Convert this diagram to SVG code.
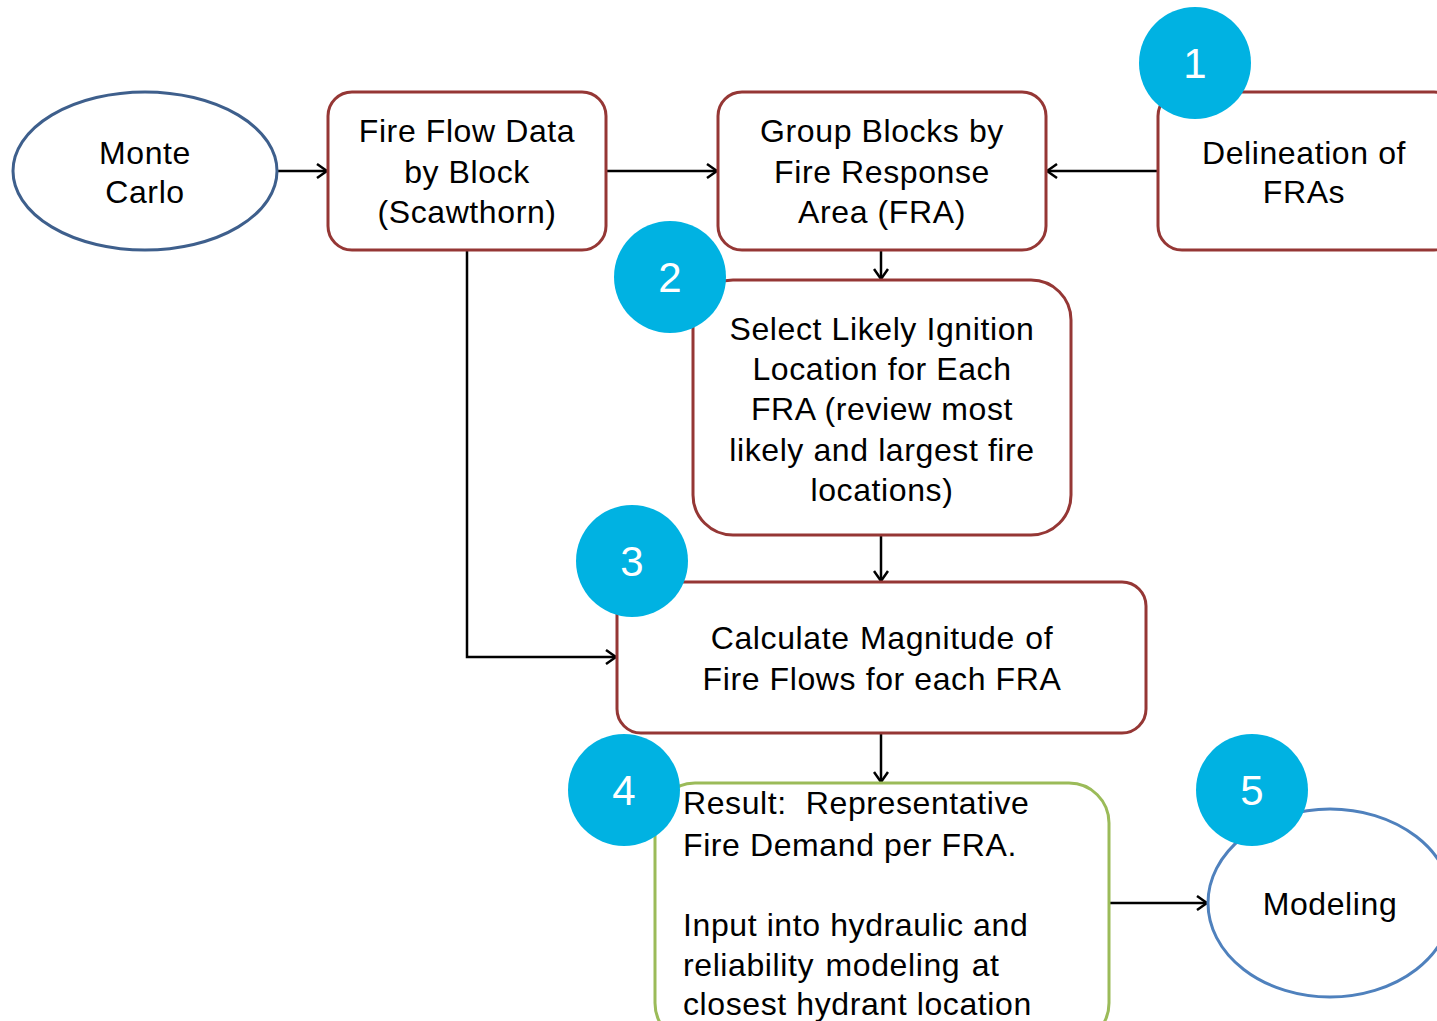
<svg xmlns="http://www.w3.org/2000/svg" width="1437" height="1021" viewBox="0 0 1437 1021">
  <defs>
    <marker id="arrow" viewBox="0 0 12 16" refX="11" refY="8" markerWidth="12" markerHeight="16" markerUnits="userSpaceOnUse" orient="auto">
      <path d="M1,1 L11,8 L1,15" fill="none" stroke="#000" stroke-width="2.5"/>
    </marker>
    <style>
      .box { fill: #fff; stroke: #953735; stroke-width: 3; }
      .green { fill: #fff; stroke: #9BBB59; stroke-width: 3; }
      .oval { fill: #fff; stroke: #3E5F8C; stroke-width: 3; }
      .oval2 { fill: #fff; stroke: #4F81BD; stroke-width: 3; }
      .badge { fill: #00B2E2; }
      .badge-t { font-family: "Liberation Sans", Arial, sans-serif; font-size: 42px; fill: #fff; text-anchor: middle; }
      .t { font-family: "Liberation Sans", Arial, sans-serif; font-size: 32px; letter-spacing: 0.6px; fill: #000; text-anchor: middle; }
      .tl { font-family: "Liberation Sans", Arial, sans-serif; font-size: 32px; letter-spacing: 0.6px; fill: #000; }
      .conn { fill: none; stroke: #000; stroke-width: 2.5; marker-end: url(#arrow); }
    </style>
  </defs>
  <rect width="1437" height="1021" fill="#fff"/>

  <g id="connectors">
    <line class="conn" x1="278" y1="171" x2="327" y2="171"/>
    <line class="conn" x1="606" y1="171" x2="717" y2="171"/>
    <line class="conn" x1="1158" y1="171" x2="1047" y2="171"/>
    <line class="conn" x1="881" y1="250" x2="881" y2="279"/>
    <line class="conn" x1="881" y1="535" x2="881" y2="581"/>
    <polyline class="conn" points="467,250 467,657 616,657"/>
    <line class="conn" x1="881" y1="733" x2="881" y2="782"/>
    <line class="conn" x1="1109" y1="903" x2="1207" y2="903"/>
  </g>

  <g id="monte-carlo">
    <ellipse class="oval" cx="145" cy="171" rx="132" ry="79"/>
    <text class="t" x="145" y="164">Monte</text>
    <text class="t" x="145" y="203">Carlo</text>
  </g>

  <g id="fire-flow-data">
    <rect class="box" x="328" y="92" width="278" height="158" rx="24"/>
    <text class="t" x="467" y="142">Fire Flow Data</text>
    <text class="t" x="467" y="183">by Block</text>
    <text class="t" x="467" y="223">(Scawthorn)</text>
  </g>

  <g id="group-blocks">
    <rect class="box" x="718" y="92" width="328" height="158" rx="24"/>
    <text class="t" x="882" y="142">Group Blocks by</text>
    <text class="t" x="882" y="183">Fire Response</text>
    <text class="t" x="882" y="223">Area (FRA)</text>
  </g>

  <g id="delineation">
    <rect class="box" x="1158" y="92" width="300" height="158" rx="24"/>
    <text class="t" x="1304" y="164">Delineation of</text>
    <text class="t" x="1304" y="203">FRAs</text>
  </g>

  <g id="select-ignition">
    <rect class="box" x="693" y="280" width="378" height="255" rx="40"/>
    <text class="t" x="882" y="340">Select Likely Ignition</text>
    <text class="t" x="882" y="380">Location for Each</text>
    <text class="t" x="882" y="420">FRA (review most</text>
    <text class="t" x="882" y="461">likely and largest fire</text>
    <text class="t" x="882" y="501">locations)</text>
  </g>

  <g id="calculate">
    <rect class="box" x="617" y="582" width="529" height="151" rx="24"/>
    <text class="t" x="882" y="649" word-spacing="1">Calculate Magnitude of</text>
    <text class="t" x="882" y="690">Fire Flows for each FRA</text>
  </g>

  <g id="result">
    <rect class="green" x="655" y="783" width="454" height="260" rx="40"/>
    <text class="tl" x="683" y="814" xml:space="preserve">Result:  Representative</text>
    <text class="tl" x="683" y="856">Fire Demand per FRA.</text>
    <text class="tl" x="683" y="936">Input into hydraulic and</text>
    <text class="tl" x="683" y="976" word-spacing="2">reliability modeling at</text>
    <text class="tl" x="683" y="1015">closest hydrant location</text>
  </g>

  <g id="modeling">
    <ellipse class="oval2" cx="1330" cy="903" rx="122" ry="94"/>
    <text class="t" x="1330" y="915">Modeling</text>
  </g>

  <g id="badge-1">
    <circle class="badge" cx="1195" cy="63" r="56"/>
    <text class="badge-t" x="1195" y="78">1</text>
  </g>
  <g id="badge-2">
    <circle class="badge" cx="670" cy="277" r="56"/>
    <text class="badge-t" x="670" y="292">2</text>
  </g>
  <g id="badge-3">
    <circle class="badge" cx="632" cy="561" r="56"/>
    <text class="badge-t" x="632" y="576">3</text>
  </g>
  <g id="badge-4">
    <circle class="badge" cx="624" cy="790" r="56"/>
    <text class="badge-t" x="624" y="805">4</text>
  </g>
  <g id="badge-5">
    <circle class="badge" cx="1252" cy="790" r="56"/>
    <text class="badge-t" x="1252" y="805">5</text>
  </g>
</svg>
